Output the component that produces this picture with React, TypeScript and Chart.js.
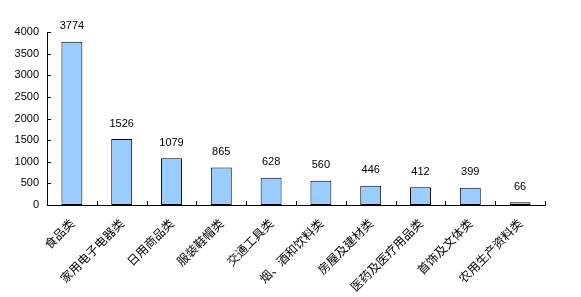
import React, { useEffect, useRef } from "react";
import { Chart, registerables } from "chart.js";
Chart.register(...registerables);

const categories = ["食品类", "家用电子电器类", "日用商品类", "服装鞋帽类", "交通工具类", "烟、酒和饮料类", "房屋及建材类", "医药及医疗用品类", "首饰及文体类", "农用生产资料类"];
const values = [3774, 1526, 1079, 865, 628, 560, 446, 412, 399, 66];
const yTicks = [0, 500, 1000, 1500, 2000, 2500, 3000, 3500, 4000];

const W = 581, H = 297;
const LEFT = 47, RIGHT = 545, TOP = 32, BOTTOM = 205;

const valueLabels = {
  id: "valueLabels",
  afterDatasetsDraw(chart: any) {
    const ctx = chart.ctx;
    const meta = chart.getDatasetMeta(0);
    ctx.save();
    ctx.font = "11px 'Liberation Sans', Arial, sans-serif";
    ctx.fillStyle = "#000";
    ctx.textAlign = "center";
    ctx.textBaseline = "bottom";
    meta.data.forEach((bar: any, i: number) => {
      ctx.fillText(String(values[i]), bar.x, bar.y - 10);
    });
    ctx.restore();
  },
};

const innerTicks = {
  id: "innerTicks",
  afterDraw(chart: any) {
    const ctx = chart.ctx;
    const x = chart.scales.x, y = chart.scales.y;
    ctx.save();
    ctx.strokeStyle = "#000";
    ctx.lineWidth = 1;
    ctx.beginPath();
    yTicks.forEach((v) => {
      const py = Math.round(y.getPixelForValue(v)) + 0.5;
      ctx.moveTo(x.left, py);
      ctx.lineTo(x.left + 4, py);
    });
    const n = categories.length;
    for (let i = 0; i <= n; i++) {
      const px = Math.round(x.left + (i * (x.right - x.left)) / n) + 0.5;
      ctx.moveTo(px, y.bottom);
      ctx.lineTo(px, y.bottom - 4);
    }
    ctx.stroke();
    ctx.restore();
  },
};

export default function App() {
  const ref = useRef<HTMLCanvasElement>(null);
  useEffect(() => {
    const chart = new Chart(ref.current!, {
      type: "bar",
      data: {
        labels: categories,
        datasets: [{
          data: values,
          backgroundColor: "#99CCFF",
          borderColor: "#000000",
          borderWidth: 1,
          borderSkipped: false,
          barPercentage: 0.42,
          categoryPercentage: 1,
        }],
      },
      options: {
        responsive: false,
        animation: false,
        layout: { padding: { left: 0, right: W - RIGHT, top: TOP, bottom: 0 } },
        plugins: { legend: { display: false }, tooltip: { enabled: false } },
        scales: {
          x: {
            grid: { display: false, drawTicks: false, offset: true },
            border: { display: true, color: "#000" },
            ticks: {
              color: "#000",
              font: { family: "'Noto Sans CJK SC', sans-serif", size: 12 },
              maxRotation: 45, minRotation: 45, autoSkip: false, padding: 11,
            },
            afterFit(s: any) { s.height = H - BOTTOM; },
          },
          y: {
            min: 0, max: 4000,
            afterBuildTicks(s: any) { s.ticks = yTicks.map((v) => ({ value: v })); },
            grid: { display: false, drawTicks: false },
            border: { display: true, color: "#000" },
            ticks: {
              color: "#000",
              font: { family: "'Liberation Sans', Arial, sans-serif", size: 11 },
              padding: 8,
              callback: (v: any) => String(v),
            },
            afterFit(s: any) { s.width = LEFT; },
          },
        },
      },
      plugins: [valueLabels, innerTicks],
    });
    return () => chart.destroy();
  }, []);
  return (
    <div style={{ position: "fixed", left: 0, top: 0, width: W, height: H, background: "#fff" }}>
      <canvas ref={ref} width={W} height={H} />
    </div>
  );
}
